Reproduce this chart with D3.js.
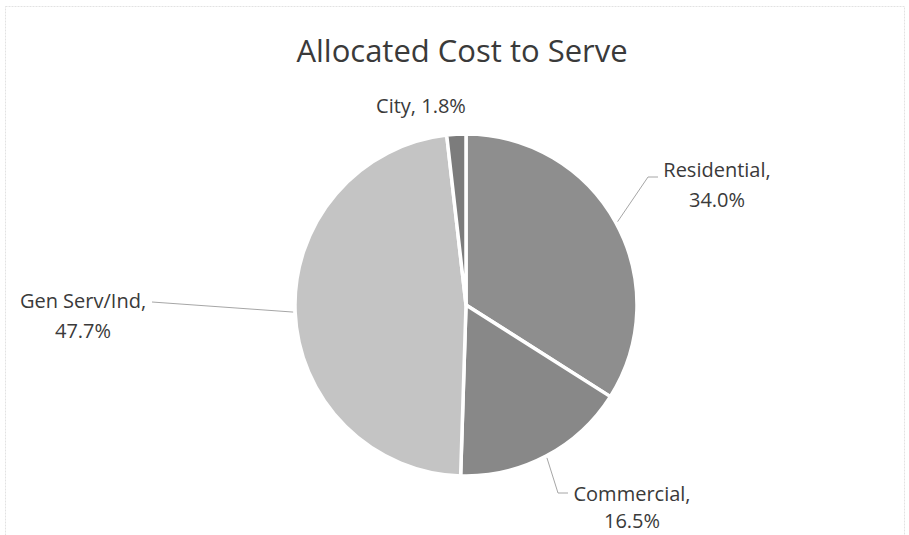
<!DOCTYPE html>
<html>
<head>
<meta charset="utf-8">
<script src="https://cdn.jsdelivr.net/npm/d3@7"></script>
<style>
  body { margin: 0; background: #fff; }
  text { font-family: "Open Sans", "Noto Sans", sans-serif; fill: #3a3a3a; }
</style>
</head>
<body>
<div id="chart"></div>
<script>
let categories = ["Residential", "Commercial", "Gen Serv/Ind", "City"];
let shares = [34.0, 16.5, 47.7, 1.8];
let colors = ["#8e8e8e", "#888888", "#c4c4c4", "#7c7c7c"];

let chart = { width: 909, height: 535 };
let cx = 466, cy = 305, radius = 171;

// label centre x, first-line baseline y, line gap and leader-line elbow, per slice
let labelPos = [
  { x: 717, y: 177, gap: 30, elbow: [[648, 177], [658, 177]] },
  { x: 632, y: 501, gap: 27, elbow: [[558, 493], [568, 493]] },
  { x: 83, y: 308, gap: 30, elbow: [[152, 302]] },
  { x: 421, y: 113, gap: 0, elbow: null }
];

let svg = d3.select("#chart").append("svg")
  .attr("width", chart.width)
  .attr("height", chart.height);

svg.append("rect")
  .attr("x", 5.5).attr("y", 6.5)
  .attr("width", 899).attr("height", 540)
  .attr("fill", "none")
  .attr("stroke", "#e2e2e2")
  .attr("stroke-dasharray", "2,1");

svg.append("text")
  .attr("x", 462)
  .attr("y", 62)
  .attr("text-anchor", "middle")
  .style("font-size", "31px")
  .text("Allocated Cost to Serve");

let g = svg.append("g").attr("transform", `translate(${cx},${cy})`);

let pie = d3.pie().sort(null).value(d => d);
let arc = d3.arc().innerRadius(0).outerRadius(radius);
let edge = d3.arc().innerRadius(radius + 2).outerRadius(radius + 2);

let arcs = pie(shares);

g.selectAll("path")
  .data(arcs)
  .enter()
  .append("path")
  .attr("d", arc)
  .attr("fill", (d, i) => colors[i])
  .attr("stroke", "white")
  .attr("stroke-width", 3.5)
  .attr("stroke-linejoin", "round");

// leader lines
arcs.forEach((d, i) => {
  let lp = labelPos[i];
  if (!lp.elbow) return;
  let p = edge.centroid(d);
  let pts = [[p[0] + cx, p[1] + cy]].concat(lp.elbow);
  svg.append("path")
    .attr("d", d3.line()(pts))
    .attr("fill", "none")
    .attr("stroke", "#a6a6a6")
    .attr("stroke-width", 1);
});

// labels
arcs.forEach((d, i) => {
  let lp = labelPos[i];
  let t = svg.append("text")
    .attr("text-anchor", "middle")
    .style("font-size", "20px");
  if (categories[i] === "City") {
    t.attr("x", lp.x).attr("y", lp.y).text(`${categories[i]}, ${shares[i].toFixed(1)}%`);
  } else {
    t.append("tspan").attr("x", lp.x).attr("y", lp.y).text(`${categories[i]},`);
    t.append("tspan").attr("x", lp.x).attr("y", lp.y + lp.gap).text(`${shares[i].toFixed(1)}%`);
  }
});
</script>
</body>
</html>
